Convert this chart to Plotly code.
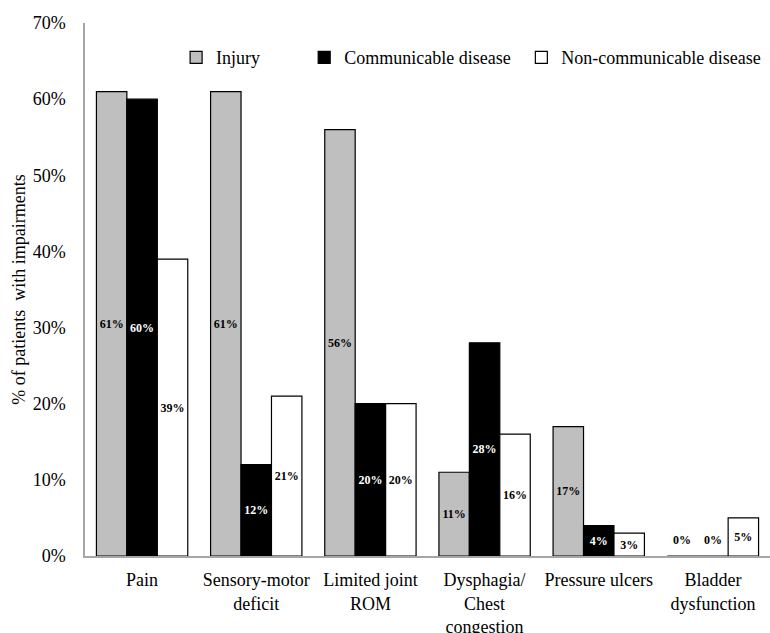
import plotly.graph_objects as go

categories = ["Pain", "Sensory-motor<br>deficit", "Limited joint<br>ROM",
              "Dysphagia/<br>Chest<br>congestion", "Pressure ulcers", "Bladder<br>dysfunction"]
injury = [61, 61, 56, 11, 17, 0]
communicable = [60, 12, 20, 28, 4, 0]
noncommunicable = [39, 21, 20, 16, 3, 5]
series_names = ["Injury", "Communicable disease", "Non-communicable disease"]
y_ticks = [0, 10, 20, 30, 40, 50, 60, 70]

FONT = "Liberation Serif"
fills = ["#bfbfbf", "#000000", "#ffffff"]
text_colors = ["#000000", "#ffffff", "#000000"]
legend_ids = ["legend", "legend2", "legend3"]

fig = go.Figure()
for name, vals, fc, tc, lg in zip(series_names, [injury, communicable, noncommunicable],
                                  fills, text_colors, legend_ids):
    fig.add_trace(go.Bar(
        name=name, x=categories, y=vals, legend=lg,
        marker=dict(color=fc, line=dict(color="#000000", width=1.2)),
        text=[f"<b>{v}%</b>" for v in vals],
        textposition=["inside" if v > 0 else "none" for v in vals],
        insidetextanchor="middle",
        textangle=0,
        textfont=dict(family=FONT, size=12, color=tc),
    ))

# labels for zero-valued bars (drawn just above the baseline)
offsets = [-31, 0, 31]
for k, vals in enumerate([injury, communicable, noncommunicable]):
    for cat, v in zip(categories, vals):
        if v == 0:
            fig.add_annotation(x=cat, y=0, xref="x", yref="y", xshift=offsets[k], yshift=16,
                               text="<b>0%</b>", showarrow=False,
                               font=dict(family=FONT, size=12, color="#000000"))

leg_common = dict(orientation="h", y=0.935, xanchor="left", yanchor="middle",
                  font=dict(family=FONT, size=18, color="#000000"),
                  bgcolor="rgba(0,0,0,0)", itemclick=False, borderwidth=0)

fig.update_layout(
    width=770, height=633,
    margin=dict(l=85, r=0, t=23, b=77),
    paper_bgcolor="white", plot_bgcolor="white",
    barmode="group", bargap=0.2, bargroupgap=0,
    uniformtext=dict(minsize=12, mode="show"),
    font=dict(family=FONT, size=18, color="#000000"),
    showlegend=True,
    legend=dict(x=0.133, **leg_common),
    legend2=dict(x=0.32, **leg_common),
    legend3=dict(x=0.637, **leg_common),
    xaxis=dict(showline=True, linecolor="#a6a6a6", linewidth=1.5, ticks="",
               tickfont=dict(family=FONT, size=18), showgrid=False, automargin=False,
               ticklabelstandoff=7),
    yaxis=dict(range=[0, 70], tickvals=y_ticks, ticktext=[f"{t}%" for t in y_ticks],
               showline=True, linecolor="#a6a6a6", linewidth=1.5, ticks="", showgrid=False,
               zeroline=False, tickfont=dict(family=FONT, size=18), ticklabelstandoff=14,
               automargin=False,
               title=dict(text="% of patients  with impairments", font=dict(family=FONT, size=18),
                          standoff=2)),
)

fig.write_html("out.html", config={"displayModeBar": False},
               post_script="document.body.style.margin='0';document.body.style.overflow='hidden';")
